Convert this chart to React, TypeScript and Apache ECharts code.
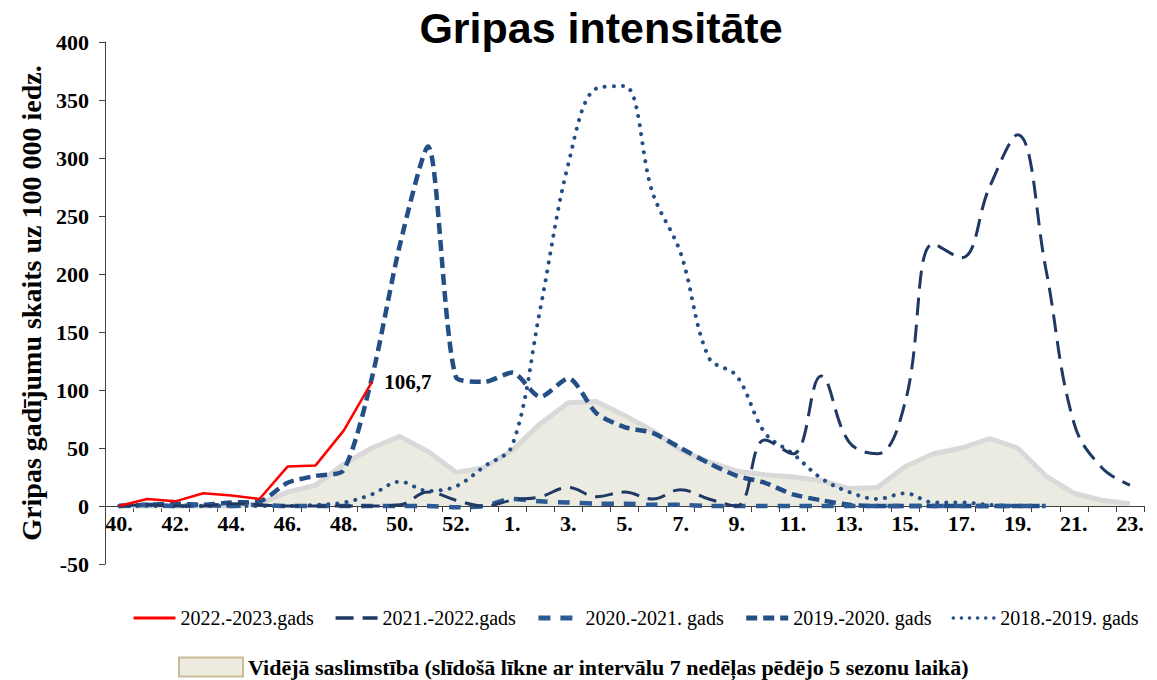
import React, { useEffect, useRef } from 'react';
import * as echarts from 'echarts';

const weeks = [
  '40.', '41.', '42.', '43.', '44.', '45.', '46.', '47.', '48.', '49.', '50.', '51.', '52.', '53.',
  '1.', '2.', '3.', '4.', '5.', '6.', '7.', '8.', '9.', '10.', '11.', '12.', '13.', '14.', '15.',
  '16.', '17.', '18.', '19.', '20.', '21.', '22.', '23.',
];

const s2022_2023 = [0, 6, 4, 11, 9, 6, 34, 35, 65, 106.7];

const s2021_2022 = [
  0, 1, 0, 0, 2, 1, 0, 0, 0, 0, 1, 12, 5, 0,
  5, 8, 16, 8, 12, 6, 14, 6, 0, 57, 45, 112, 55, 45, 90,
  226, 214, 275, 320, 205, 72, 33, 18,
];

const s2020_2021 = [
  0, 1, 0, 1, 0, 1, 0, 0, 0, 0, 0, 0, -1, 0,
  6, 4, 3, 2, 2, 1, 1, 0, 0, 0, 0, 0, 0, 0, 0,
  0, 0, 0, 0, 0,
];

const s2019_2020 = [
  0, 1, 2, 1, 3, 4, 20, 26, 31, 110, 225, 310, 111, 107,
  115, 94, 110, 80, 68, 63, 50, 37, 26, 20, 10, 5, 1, 0, 0,
  0, 0, 0, 0, 0,
];

const s2018_2019 = [
  0, 0, 0, 0, 0, 0, 0, 1, 3, 10, 21, 13, 17, 34,
  52, 170, 295, 360, 362, 270, 218, 128, 112, 63, 45, 24, 12, 6, 11,
  3, 3, 1, 0,
];

const sAverage = [
  0, 0, 0, 0, 0, 2, 12, 18, 36, 50, 60, 47, 29, 33,
  48, 71, 89, 90, 78, 65, 48, 38, 30, 27, 25, 22, 15, 16, 34,
  45, 50, 58, 50, 26, 11, 5, 2,
];

const yTicks = { min: -50, max: 400, interval: 50 };

const names = {
  n1: '2022.-2023.gads',
  n2: '2021.-2022.gads',
  n3: '2020.-2021. gads',
  n4: '2019.-2020. gads',
  n5: '2018.-2019. gads',
  avg: 'Vidējā saslimstība (slīdošā līkne ar intervālu 7 nedēļas pēdējo 5 sezonu laikā)',
};

const serif = '"Liberation Serif", "Times New Roman", serif';

export default function App() {
  const ref = useRef<HTMLDivElement>(null);

  useEffect(() => {
    if (!ref.current) return;
    const chart = echarts.init(ref.current, undefined, { renderer: 'svg' });

    const redData: any[] = s2022_2023.map((v, i) =>
      i === s2022_2023.length - 1
        ? {
            value: v,
            symbol: 'circle',
            symbolSize: 1,
            label: {
              show: true,
              position: 'right',
              distance: 12,
              formatter: '106,7',
              fontFamily: serif,
              fontWeight: 'bold',
              fontSize: 21,
              color: '#000',
            },
          }
        : v
    );

    const option: any = {
      animation: false,
      backgroundColor: '#ffffff',
      graphic: [
        {
          type: 'text',
          x: 601,
          y: 28,
          style: {
            text: 'Gripas intensitāte',
            font: 'bold 43px "Liberation Sans", Arial, sans-serif',
            fill: '#000',
            align: 'center',
            verticalAlign: 'middle',
          },
        },
      ],
      grid: { left: 105, right: 13, top: 42, bottom: 116, containLabel: false },
      xAxis: {
        type: 'category',
        data: weeks,
        boundaryGap: true,
        offset: -58,
        axisLine: { onZero: false, lineStyle: { color: '#404040', width: 1 } },
        axisTick: { show: true, interval: 0, length: 6, lineStyle: { color: '#404040' } },
        axisLabel: {
          interval: 1,
          margin: 6,
          fontFamily: serif,
          fontWeight: 'bold',
          fontSize: 22,
          color: '#000',
        },
        splitLine: { show: false },
      },
      yAxis: {
        type: 'value',
        min: yTicks.min,
        max: yTicks.max,
        interval: yTicks.interval,
        name: 'Gripas gadījumu skaits uz 100 000 iedz.',
        nameLocation: 'middle',
        nameGap: 60,
        nameTextStyle: {
          fontFamily: serif,
          fontWeight: 'bold',
          fontSize: 28,
          color: '#000',
        },
        axisLine: { show: true, lineStyle: { color: '#404040', width: 1 } },
        axisTick: { show: true, length: 6, lineStyle: { color: '#404040' } },
        axisLabel: {
          margin: 16,
          fontFamily: serif,
          fontWeight: 'bold',
          fontSize: 22,
          color: '#000',
        },
        splitLine: { show: false },
      },
      legend: [
        {
          data: [
            { name: names.n1, lineStyle: { width: 3, color: '#ff0000', type: 'solid' } },
            { name: names.n2, lineStyle: { width: 3.5, color: '#1f3864', type: [18, 9] } },
            { name: names.n3, lineStyle: { width: 5, color: '#2c5a93', type: [12, 10] } },
            { name: names.n4, lineStyle: { width: 5, color: '#234f86', type: [11, 6] } },
            { name: names.n5, lineStyle: { width: 3.5, color: '#244f85', type: [0.1, 8], cap: 'round' } },
          ],
          left: 127,
          top: 603,
          itemWidth: 42,
          itemHeight: 14,
          itemGap: 20,
          itemStyle: { opacity: 0 },
          textStyle: { fontFamily: serif, fontSize: 20, color: '#000' },
        },
        {
          data: [
            {
              name: names.avg,
              icon: 'rect',
              itemStyle: { color: '#eeece1', borderColor: '#c8bd96', borderWidth: 2 },
            },
          ],
          left: 173,
          top: 651,
          itemWidth: 64,
          itemHeight: 19,
          itemGap: 10,
          textStyle: { fontFamily: serif, fontSize: 22, fontWeight: 'bold', color: '#000' },
        },
      ],
      series: [
        {
          name: names.avg,
          type: 'line',
          data: sAverage,
          symbol: 'none',
          smooth: false,
          z: 1,
          lineStyle: { color: '#d9d9d9', width: 5 },
          itemStyle: { color: '#eeece1' },
          areaStyle: { color: '#ecebe1', opacity: 1 },
        },
        {
          name: names.n5,
          type: 'line',
          data: s2018_2019,
          symbol: 'none',
          smooth: 0.35,
          z: 2,
          itemStyle: { color: '#244f85' },
          lineStyle: { color: '#244f85', width: 4, type: [0.1, 9], cap: 'round' },
        },
        {
          name: names.n4,
          type: 'line',
          data: s2019_2020,
          symbol: 'none',
          smooth: 0.25,
          z: 3,
          itemStyle: { color: '#234f86' },
          lineStyle: { color: '#234f86', width: 4.5, type: [11, 6] },
        },
        {
          name: names.n3,
          type: 'line',
          data: s2020_2021,
          symbol: 'none',
          smooth: 0.3,
          z: 4,
          itemStyle: { color: '#2c5a93' },
          lineStyle: { color: '#2c5a93', width: 4.5, type: [12, 10] },
        },
        {
          name: names.n2,
          type: 'line',
          data: s2021_2022,
          symbol: 'none',
          smooth: 0.4,
          z: 5,
          itemStyle: { color: '#1f3864' },
          lineStyle: { color: '#1f3864', width: 3, type: [18, 9] },
        },
        {
          name: names.n1,
          type: 'line',
          data: redData,
          symbol: 'none',
          smooth: false,
          z: 6,
          itemStyle: { color: '#ff0000' },
          lineStyle: { color: '#ff0000', width: 2.5 },
        },
      ],
    };

    chart.setOption(option);
    return () => chart.dispose();
  }, []);

  return (
    <div
      ref={ref}
      style={{ position: 'fixed', left: 0, top: 0, width: 1157, height: 680, background: '#fff' }}
    />
  );
}
